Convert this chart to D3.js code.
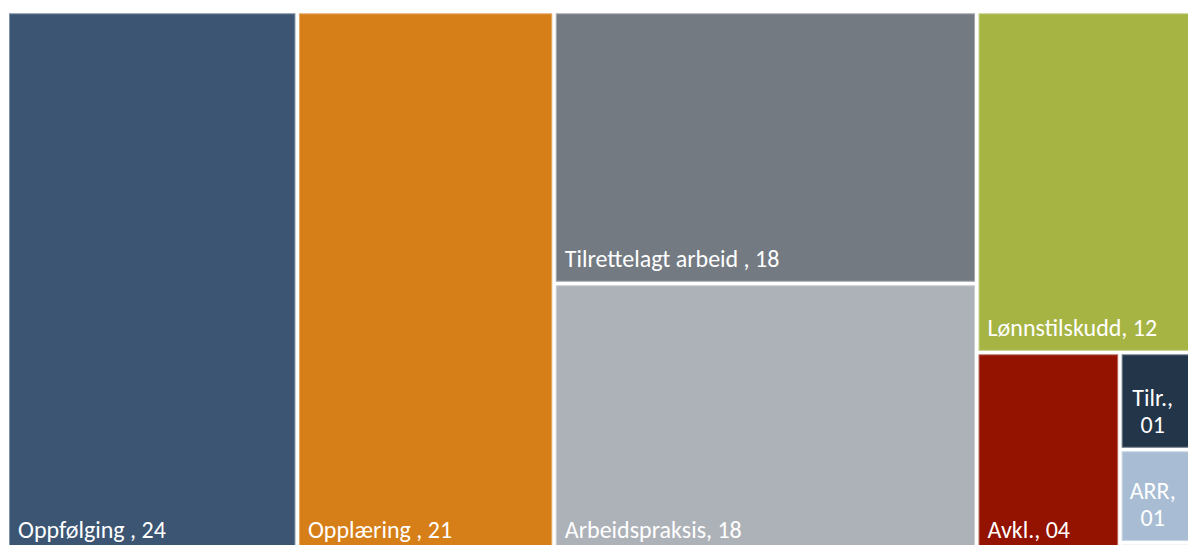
<!DOCTYPE html>
<html>
<head>
<meta charset="utf-8">
<script src="https://cdn.jsdelivr.net/npm/d3@7"></script>
<style>
  html, body { margin: 0; padding: 0; background: #ffffff; }
  svg { display: block; }
  text { font-family: Calibri, Carlito, "Open Sans", sans-serif; }
</style>
</head>
<body>
<svg id="chart" width="1188" height="545"></svg>
<script>
// Categories (percent shares)
const names  = ["Oppfølging ", "Opplæring ", "Tilrettelagt arbeid ", "Arbeidspraksis", "Lønnstilskudd", "Avkl.", "Tilr.", "ARR", "Annet"];
const values = [24.17, 21.41, 17.62, 17.62, 12.02, 4.45, 1.29, 1.24, 0.17];
const colors = ["#3B5573", "#D67E17", "#737A82", "#ADB2B8", "#A6B443", "#931200", "#233549", "#A8BDD4", "#E4E4E4"];
// Nesting of the tiles (indices into the arrays above)
const nesting = [0, 1, [2, 3], [4, [5, [6, 7, 8]]]];

const W = 1196, H = 540.4, X0 = 9, Y0 = 13.3;

function build(item) {
  if (Array.isArray(item)) return { children: item.map(build) };
  return { idx: item, name: names[item], value: values[item], color: colors[item] };
}

const root = d3.hierarchy(build(nesting))
  .sum(d => d.value || 0);

d3.treemap()
  .tile(d3.treemapSliceDice)
  .size([W, H])
  .paddingInner(3.5)
  .paddingOuter(0)
  .round(false)(root);

const svg = d3.select("#chart");
const g = svg.append("g").attr("transform", `translate(${X0},${Y0})`);

const fmt = d3.format("02.0f");
const leaves = root.leaves();

const cell = g.selectAll("g.cell").data(leaves).join("g").attr("class", "cell");

cell.append("rect")
  .attr("x", d => d.x0 + 0.5)
  .attr("y", d => d.y0 + 0.5)
  .attr("width", d => Math.max(0, d.x1 - d.x0 - 1))
  .attr("height", d => Math.max(0, d.y1 - d.y0 - 1))
  .attr("fill", d => d.data.color)
  .attr("stroke", d => d3.interpolateRgb(d.data.color, "#ffffff")(0.35))
  .attr("stroke-width", 1);

const fontSize = 24;
const lineH = 26.6;

cell.each(function(d) {
  if (d.y1 - d.y0 < 40) return; // too small for a label
  const sel = d3.select(this);
  const label = d.data.name + ", " + fmt(d.data.value);
  const t = sel.append("text")
    .attr("fill", "#ffffff")
    .attr("font-size", fontSize)
    .attr("x", d.x0 + 9)
    .attr("y", d.y1 - 15.2)
    .text(label);
  if (d.x1 - d.x0 < 100) {
    // wrap: name line + value line, centred
    t.text(null).attr("text-anchor", "middle");
    const lines = [d.data.name + ",", fmt(d.data.value)];
    const cx = d.x0 + 31;
    lines.forEach((ln, i) => {
      t.append("tspan")
        .attr("x", cx)
        .attr("y", d.y1 - 15.2 - (lines.length - 1 - i) * lineH)
        .text(ln);
    });
  }
});
</script>
</body>
</html>
